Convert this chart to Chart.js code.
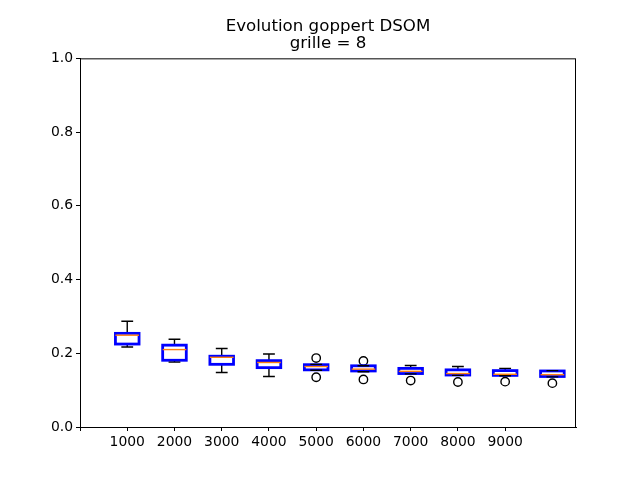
<!DOCTYPE html>
<html>
<head>
<meta charset="utf-8">
<title>Evolution goppert DSOM</title>
<script src="https://cdn.jsdelivr.net/npm/chart.js@4.4.1/dist/chart.umd.min.js"></script>
<style>
    html, body { margin: 0; padding: 0; background: #fff; }
    #graphique { display: block; }
</style>
</head>
<body>
<canvas id="graphique" width="640" height="480"></canvas>
<script>
// positions des boites (1 a 10), ticks de l'axe x 0 a 9
const positions = [1, 2, 3, 4, 5, 6, 7, 8, 9, 10];
const xTicks = [0, 1, 2, 3, 4, 5, 6, 7, 8, 9];
const xLabels = ['', '1000', '2000', '3000', '4000', '5000', '6000', '7000', '8000', '9000'];

// statistiques
const moustacheBas = [0.217, 0.176, 0.148, 0.137, 0.154, 0.150, 0.144, 0.140, 0.139, 0.136];
const q1 = [0.225, 0.181, 0.170, 0.161, 0.155, 0.152, 0.145, 0.141, 0.140, 0.137];
const mediane = [0.249, 0.210, 0.189, 0.175, 0.164, 0.157, 0.151, 0.145, 0.143, 0.142];
const q3 = [0.254, 0.222, 0.192, 0.180, 0.169, 0.166, 0.159, 0.155, 0.153, 0.152];
const moustacheHaut = [0.287, 0.238, 0.213, 0.198, 0.170, 0.166, 0.167, 0.164, 0.159, 0.153];
const aberrants = [[], [], [], [], [0.187, 0.135], [0.179, 0.129], [0.126], [0.122], [0.123], [0.119]];

const yTicks = [0, 0.2, 0.4, 0.6, 0.8, 1.0];

document.addEventListener('DOMContentLoaded', () => {
    inicializarGrafico();
});

// dessine moustaches, caps, contours et medianes avec les echelles du graphique
const pluginBoites = {
    id: 'boites',
    afterDatasetsDraw(chart) {
        const ctx = chart.ctx;
        const x = chart.scales.x;
        const y = chart.scales.y;
        const meta = chart.getDatasetMeta(0);
        ctx.save();
        positions.forEach((p, i) => {
            const cx = x.getPixelForValue(p);
            const demi = x.getPixelForValue(p + 0.25) - cx;
            const capDemi = demi / 2;

            // moustaches
            ctx.strokeStyle = '#000';
            ctx.lineWidth = 1.4;
            ctx.beginPath();
            ctx.moveTo(cx, y.getPixelForValue(q1[i]));
            ctx.lineTo(cx, y.getPixelForValue(moustacheBas[i]));
            ctx.moveTo(cx, y.getPixelForValue(q3[i]));
            ctx.lineTo(cx, y.getPixelForValue(moustacheHaut[i]));
            ctx.stroke();

            // contour de la boite
            const barre = meta.data[i];
            const haut = Math.min(barre.y, barre.base);
            const bas = Math.max(barre.y, barre.base);
            ctx.strokeStyle = '#0000ff';
            ctx.lineWidth = 2.8;
            ctx.strokeRect(barre.x - barre.width / 2, haut, barre.width, bas - haut);

            // caps
            ctx.strokeStyle = '#000';
            ctx.lineWidth = 1.4;
            ctx.beginPath();
            [moustacheBas[i], moustacheHaut[i]].forEach(v => {
                const py = y.getPixelForValue(v);
                ctx.moveTo(cx - capDemi, py);
                ctx.lineTo(cx + capDemi, py);
            });
            ctx.stroke();

            // mediane
            const pm = y.getPixelForValue(mediane[i]);
            ctx.strokeStyle = '#ff7f0e';
            ctx.lineWidth = 1.4;
            ctx.beginPath();
            ctx.moveTo(cx - demi, pm);
            ctx.lineTo(cx + demi, pm);
            ctx.stroke();
        });
        ctx.restore();
    },
    afterDraw(chart) {
        const a = chart.chartArea;
        const ctx = chart.ctx;
        ctx.save();
        ctx.strokeStyle = '#000';
        ctx.lineWidth = 1;
        ctx.strokeRect(a.left + 0.5, a.top + 0.5, a.right - a.left - 1, a.bottom - a.top);
        ctx.restore();
    }
};

function inicializarGrafico() {
    const police = { family: 'DejaVu Sans', size: 13.9 };

    const donneesBoites = positions.map((p, i) => ({ x: p, y: [q1[i], q3[i]] }));
    const donneesAberrants = [];
    positions.forEach((p, i) => {
        aberrants[i].forEach(v => donneesAberrants.push({ x: p, y: v }));
    });

    window.graphique = new Chart(document.getElementById('graphique').getContext('2d'), {
        type: 'bar',
        data: {
            datasets: [
                {
                    label: 'boites',
                    data: donneesBoites,
                    backgroundColor: '#ffffff',
                    borderWidth: 0,
                    barPercentage: 0.5,
                    categoryPercentage: 1.0
                },
                {
                    type: 'scatter',
                    label: 'aberrants',
                    data: donneesAberrants,
                    pointStyle: 'circle',
                    pointRadius: 4.2,
                    pointBorderWidth: 1.4,
                    pointBorderColor: '#000',
                    pointBackgroundColor: 'rgba(0,0,0,0)',
                    showLine: false
                }
            ]
        },
        options: {
            responsive: false,
            animation: false,
            devicePixelRatio: 1,
            layout: { padding: { left: 0, right: 64, top: 0, bottom: 0 } },
            plugins: {
                legend: { display: false },
                tooltip: { enabled: false },
                title: {
                    display: true,
                    fullSize: false,
                    text: ['Evolution goppert DSOM', 'grille = 8'],
                    color: '#000',
                    font: { family: 'DejaVu Sans', size: 16.67, weight: 'normal', lineHeight: 0.97 },
                    padding: { top: 19, bottom: 7 }
                }
            },
            scales: {
                x: {
                    type: 'linear',
                    min: 0,
                    max: 10.5,
                    offset: false,
                    afterBuildTicks: (axis) => { axis.ticks = xTicks.map(v => ({ value: v })); },
                    afterFit: (axis) => { axis.height = 53; },
                    grid: { offset: false, drawOnChartArea: false, drawTicks: true, tickLength: 4, color: '#000' },
                    border: { display: true, color: '#000', width: 1 },
                    ticks: {
                        autoSkip: false,
                        maxRotation: 0,
                        padding: 3,
                        color: '#000',
                        font: police,
                        callback: (value, index) => xLabels[index]
                    }
                },
                y: {
                    type: 'linear',
                    min: 0,
                    max: 1,
                    afterBuildTicks: (axis) => { axis.ticks = yTicks.map(v => ({ value: v })); },
                    afterFit: (axis) => { axis.width = 80; },
                    grid: { drawOnChartArea: false, drawTicks: true, tickLength: 4, color: '#000' },
                    border: { display: true, color: '#000', width: 1 },
                    ticks: {
                        padding: 3,
                        color: '#000',
                        font: police,
                        callback: (value) => Number(value).toFixed(1)
                    }
                }
            }
        },
        plugins: [pluginBoites]
    });
}
</script>
</body>
</html>
